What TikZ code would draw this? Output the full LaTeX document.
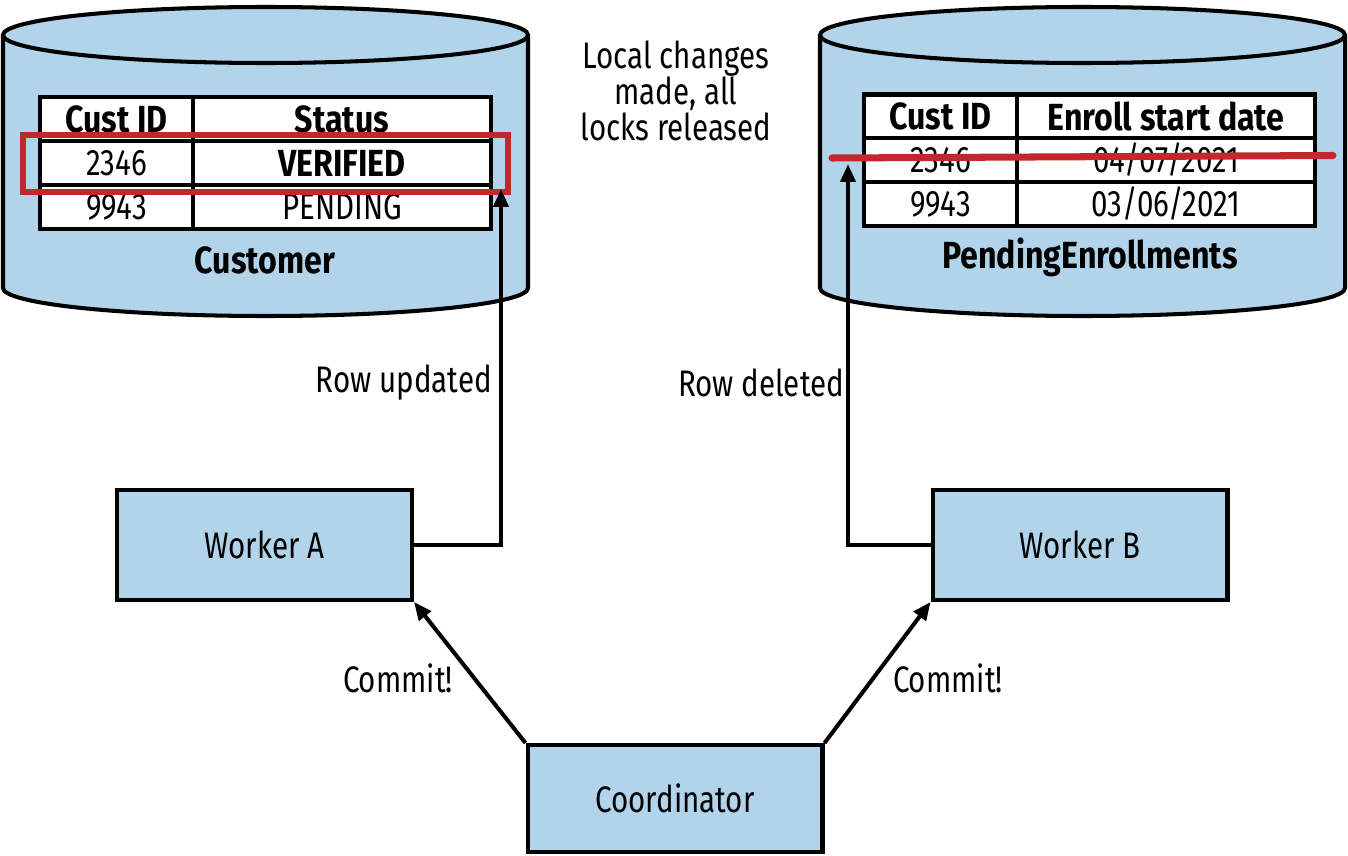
\documentclass[tikz,border=0pt]{standalone}
\usepackage{fontspec}
\setmainfont{Fira Sans}[FakeStretch=0.8, BoldFeatures={FakeStretch=0.85}]
\usetikzlibrary{arrows.meta}
\definecolor{dbblue}{RGB}{177,212,234}
\definecolor{hired}{RGB}{193,39,45}
\begin{document}
\begin{tikzpicture}[x=0.02cm,y=-0.02cm,
  lw/.style={line width=2.3pt},
  txt/.style={font=\fontsize{21}{20.7}\selectfont},
  btxt/.style={font=\fontsize{21.5}{22}\selectfont\bfseries},
  box/.style={draw, lw, fill=dbblue, minimum width=5.9cm, minimum height=2.2cm, inner sep=0pt, txt},
  cylfill/.style={fill=dbblue},
  cylline/.style={draw, lw},
  cellA/.style={draw, lw, fill=white, inner sep=0pt, minimum width=3.06cm, minimum height=0.88cm, txt},
  cellB/.style={draw, lw, fill=white, inner sep=0pt, minimum width=5.96cm, minimum height=0.88cm, txt},
  lbl/.style={inner sep=1pt, txt},
  arr/.style={lw, -{Triangle[length=0.36cm, width=0.3cm]}},
  redline/.style={draw=hired, line width=3.2pt},
]
\useasboundingbox (0,0) rectangle (1348,855);

% ---------- Customer cylinder ----------
\fill[cylfill] (3,35) -- (3,288) arc[start angle=180, end angle=0, x radius=262.5, y radius=28]
  -- (528,35) arc[start angle=0, end angle=-180, x radius=262.5, y radius=28] -- cycle;
\draw[cylline] (3,35) -- (3,288) arc[start angle=180, end angle=0, x radius=262.5, y radius=28] -- (528,35);
\draw[cylline] (265.5,35) ellipse [x radius=262.5, y radius=28];

% ---------- PendingEnrollments cylinder ----------
\fill[cylfill] (820,35) -- (820,288) arc[start angle=180, end angle=0, x radius=262.5, y radius=28]
  -- (1345,35) arc[start angle=0, end angle=-180, x radius=262.5, y radius=28] -- cycle;
\draw[cylline] (820,35) -- (820,288) arc[start angle=180, end angle=0, x radius=262.5, y radius=28] -- (1345,35);
\draw[cylline] (1082.5,35) ellipse [x radius=262.5, y radius=28];

% ---------- Customer table ----------
\node[cellA, btxt] (c11) at (116.5,119) {Cust ID};
\node[cellB, btxt] (c12) at (342,119) {Status};
\node[cellA] (c21) at (116.5,163) {2346};
\node[cellB, btxt] (c22) at (342,163) {VERIFIED};
\node[cellA] (c31) at (116.5,207) {9943};
\node[cellB] (c32) at (342,207) {PENDING};
\node[lbl, btxt] (cust) at (265,260) {Customer};

% ---------- PendingEnrollments table ----------
\node[cellA, btxt] (p11) at (940.5,116.5) {Cust ID};
\node[cellB, btxt] (p12) at (1166,116.5) {Enroll start date};
\node[cellA] (p21) at (940.5,160) {2346};
\node[cellB] (p22) at (1166,160) {04/07/2021};
\node[cellA] (p31) at (940.5,204) {9943};
\node[cellB] (p32) at (1166,204) {03/06/2021};
\node[lbl, btxt] (pend) at (1090,257) {PendingEnrollments};

% ---------- highlights ----------
\node[redline, inner sep=0pt, minimum width=9.7cm, minimum height=1.14cm] (hl) at (265.5,163.5) {};
\coordinate (s1) at (832,158);
\coordinate (s2) at (1333,155.5);
\draw[hired, line width=4pt, line cap=round] (s1) -- (s2);

% ---------- note ----------
\node[lbl, align=center] (note) at (676,91) {Local changes\\made, all\\locks released};

% ---------- boxes ----------
\node[box] (wa) at (264.5,545) {Worker A};
\node[box] (wb) at (1080,545) {Worker B};
\node[box, minimum height=2.14cm] (co) at (675,798.5) {Coordinator};

% ---------- connectors ----------
\coordinate (ua) at (501,189);
\coordinate (ud) at (848,164);
\draw[arr] (wa.east) -| (ua);
\draw[arr] ([xshift=2pt]wb.west) -| (ud);
\draw[arr] (co.north west) -- (wa.south east);
\draw[arr] (co.north east) -- (wb.south west);

% ---------- labels ----------
\node[lbl, anchor=east] (lru) at (494,383) {Row updated};
\node[lbl, anchor=west] (lrd) at (676,383) {Row deleted};
\node[lbl] (lc1) at (398,678) {Commit!};
\node[lbl] (lc2) at (948,678) {Commit!};
\end{tikzpicture}
\end{document}
